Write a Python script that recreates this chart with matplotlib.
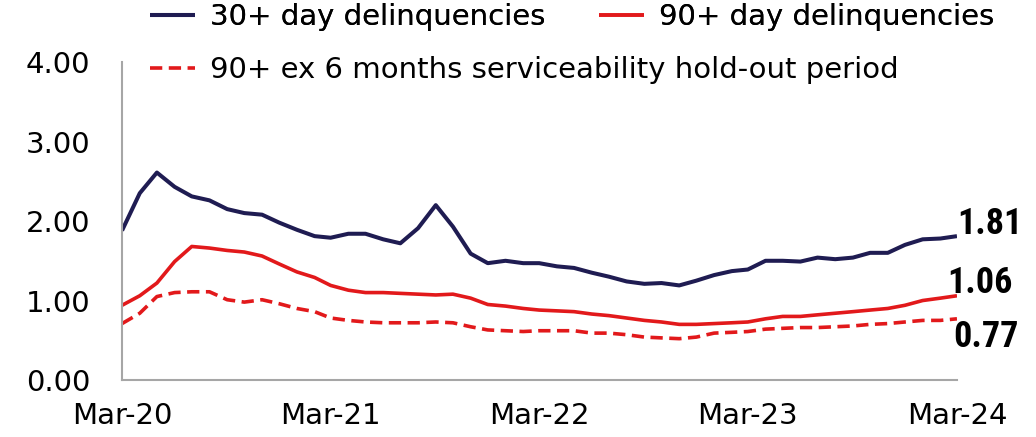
import matplotlib
matplotlib.use("Agg")
import matplotlib.pyplot as plt
import matplotlib.dates as mdates
from matplotlib import font_manager as fm
import pandas as pd

# Monthly data, Mar-20 to Mar-24
months = pd.date_range("2020-03-01", periods=49, freq="MS")
dpd30 = [1.88, 2.35, 2.61, 2.43, 2.31, 2.26, 2.15, 2.10, 2.08, 1.98, 1.89, 1.81,
         1.79, 1.84, 1.84, 1.77, 1.72, 1.91, 2.20, 1.93, 1.59, 1.47, 1.50, 1.47,
         1.47, 1.43, 1.41, 1.35, 1.30, 1.24, 1.21, 1.22, 1.19, 1.25, 1.32, 1.37,
         1.39, 1.50, 1.50, 1.49, 1.54, 1.52, 1.54, 1.60, 1.60, 1.70, 1.77, 1.78, 1.81]
dpd90 = [0.94, 1.06, 1.22, 1.49, 1.68, 1.66, 1.63, 1.61, 1.56, 1.46, 1.36, 1.29,
         1.19, 1.13, 1.10, 1.10, 1.09, 1.08, 1.07, 1.08, 1.03, 0.95, 0.93, 0.90,
         0.88, 0.87, 0.86, 0.83, 0.81, 0.78, 0.75, 0.73, 0.70, 0.70, 0.71, 0.72,
         0.73, 0.77, 0.80, 0.80, 0.82, 0.84, 0.86, 0.88, 0.90, 0.94, 1.00, 1.03, 1.06]
dpd90_ex = [0.71, 0.84, 1.05, 1.10, 1.11, 1.11, 1.01, 0.98, 1.01, 0.96, 0.90, 0.86,
            0.78, 0.75, 0.73, 0.72, 0.72, 0.72, 0.73, 0.72, 0.67, 0.63, 0.62, 0.61,
            0.62, 0.62, 0.62, 0.59, 0.59, 0.57, 0.54, 0.53, 0.52, 0.54, 0.59, 0.60,
            0.61, 0.64, 0.65, 0.66, 0.66, 0.67, 0.68, 0.70, 0.71, 0.73, 0.75, 0.75, 0.77]
labels = ["30+ day delinquencies", "90+ day delinquencies",
          "90+ ex 6 months serviceability hold-out period"]

navy = "#1f1c52"
red = "#e2191b"
grey = "#a6a6a6"

plt.rcParams["font.family"] = ["DejaVu Sans"]

# pick a narrow bold face for the end labels if one is around
installed = {f.name for f in fm.fontManager.ttflist}
narrow = ["Roboto Condensed", "Liberation Sans Narrow", "DejaVu Sans Condensed"]
narrow = [n for n in narrow if n in installed]
end_family = narrow[:1] + ["DejaVu Sans"]
end_size = 26 if narrow and narrow[0] != "DejaVu Sans Condensed" else 22

fig = plt.figure(figsize=(10.36, 4.37), dpi=100)
ax = fig.add_axes([0.1178, 0.1304, 0.8059, 0.7276])

l1, = ax.plot(months, dpd30, color=navy, lw=2.9, solid_capstyle="butt")
l2, = ax.plot(months, dpd90, color=red, lw=2.6, solid_capstyle="butt")
l3, = ax.plot(months, dpd90_ex, color=red, lw=2.6, dashes=(3.4, 1.8))

ax.set_xlim(months[0], months[-1])
ax.set_ylim(0, 4)
ax.set_yticks([0, 1, 2, 3, 4])
ax.yaxis.set_major_formatter(plt.FormatStrFormatter("%.2f"))
ax.set_xticks(months[::12])
ax.xaxis.set_major_formatter(mdates.DateFormatter("%b-%y"))
ax.tick_params(axis="both", length=0, labelsize=21, colors="black")
ax.tick_params(axis="y", pad=23)
ax.tick_params(axis="x", pad=16)

for s in ["top", "right"]:
    ax.spines[s].set_visible(False)
for s in ["left", "bottom"]:
    ax.spines[s].set_color(grey)
    ax.spines[s].set_linewidth(1.5)

# end labels
end_font = dict(family=end_family, stretch="condensed", weight="bold",
                fontsize=end_size, color="black", va="center", ha="left",
                textcoords="offset points", annotation_clip=False)
ax.annotate(f"{dpd30[-1]:.2f}", (months[-1], dpd30[-1]), xytext=(0, 9), **end_font)
ax.annotate(f"{dpd90[-1]:.2f}", (months[-1], dpd90[-1]), xytext=(-7, 9), **end_font)
ax.annotate(f"{dpd90_ex[-1]:.2f}", (months[-1], dpd90_ex[-1]), xytext=(-3, -13), **end_font)

leg1 = fig.legend([l1, l2], labels[:2], ncol=2, loc="center left",
                  bbox_to_anchor=(0.1448, 0.961), frameon=False, fontsize=21,
                  handlelength=1.54, handletextpad=0.51, columnspacing=1.85,
                  borderpad=0, borderaxespad=0)
fig.legend([l3], labels[2:], loc="center left",
           bbox_to_anchor=(0.1448, 0.84), frameon=False, fontsize=21,
           handlelength=1.54, handletextpad=0.51, borderpad=0, borderaxespad=0)
fig.add_artist(leg1)

fig.savefig("out.png", dpi=100)
